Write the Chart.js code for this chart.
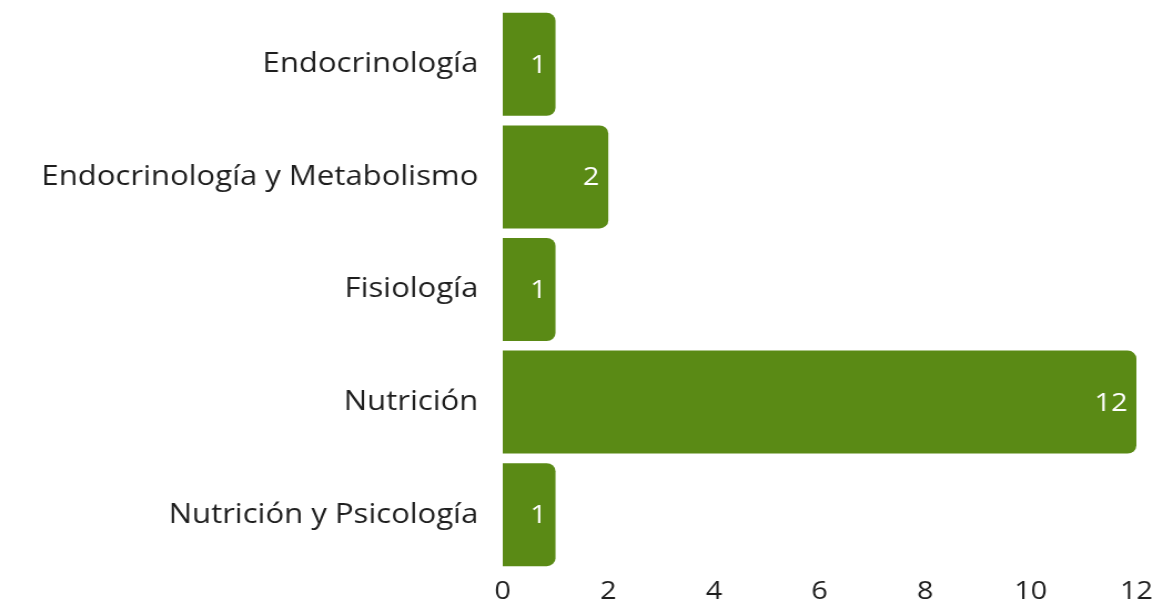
<!DOCTYPE html>
<html>
<head>
<meta charset="utf-8">
<script src="https://cdn.jsdelivr.net/npm/chart.js@4"></script>
<style>
  html, body { margin: 0; padding: 0; background: #ffffff; overflow: hidden; }
  #c { display: block; width: 1173px; height: 607px; }
</style>
</head>
<body>
<!-- drawn on a slightly narrower canvas and widened to the page width -->
<canvas id="c" width="1057" height="607" style="width:1173px;height:607px"></canvas>
<script>
const categories = [
  'Endocrinología',
  'Endocrinología y Metabolismo',
  'Fisiología',
  'Nutrición',
  'Nutrición y Psicología'
];
const counts = [1, 2, 1, 12, 1];
const xTicks = [0, 2, 4, 6, 8, 10, 12];

const FONT = "'Open Sans', sans-serif";

// Writes each bar's value just inside its right end.
const valueLabels = {
  id: 'valueLabels',
  afterDatasetsDraw(chart) {
    const ctx = chart.ctx;
    const meta = chart.getDatasetMeta(0);
    ctx.save();
    ctx.font = '26px ' + FONT;
    ctx.fillStyle = '#ffffff';
    ctx.textAlign = 'right';
    ctx.textBaseline = 'middle';
    meta.data.forEach((bar, i) => {
      ctx.fillText(String(counts[i]), bar.x - 8, bar.y + 1);
    });
    ctx.restore();
  }
};

new Chart(document.getElementById('c'), {
  type: 'bar',
  data: {
    labels: categories,
    datasets: [{
      data: counts,
      backgroundColor: '#5a8a15',
      borderRadius: { topRight: 8, bottomRight: 8 },
      borderSkipped: 'start',
      barPercentage: 0.915,
      categoryPercentage: 1
    }]
  },
  options: {
    indexAxis: 'y',
    responsive: false,
    devicePixelRatio: 1,
    animation: false,
    layout: { padding: { top: 8, right: 33, bottom: 0, left: 0 } },
    plugins: { legend: { display: false }, tooltip: { enabled: false } },
    scales: {
      x: {
        min: 0, max: 12,
        afterBuildTicks(axis) { axis.ticks = xTicks.map(v => ({ value: v })); },
        afterFit(axis) { axis.height = 36; axis.paddingLeft = 0; axis.paddingRight = 0; },
        grid: { display: false, drawTicks: false },
        border: { display: false },
        ticks: { color: '#1e1e1e', font: { family: FONT, size: 26 }, padding: 5 }
      },
      y: {
        grid: { display: false, drawTicks: false },
        border: { display: false },
        afterFit(axis) { axis.width = 453; axis.paddingTop = 0; axis.paddingBottom = 0; },
        ticks: { color: '#1e1e1e', font: { family: FONT, size: 28 }, padding: 22 }
      }
    }
  },
  plugins: [valueLabels]
});
</script>
</body>
</html>
